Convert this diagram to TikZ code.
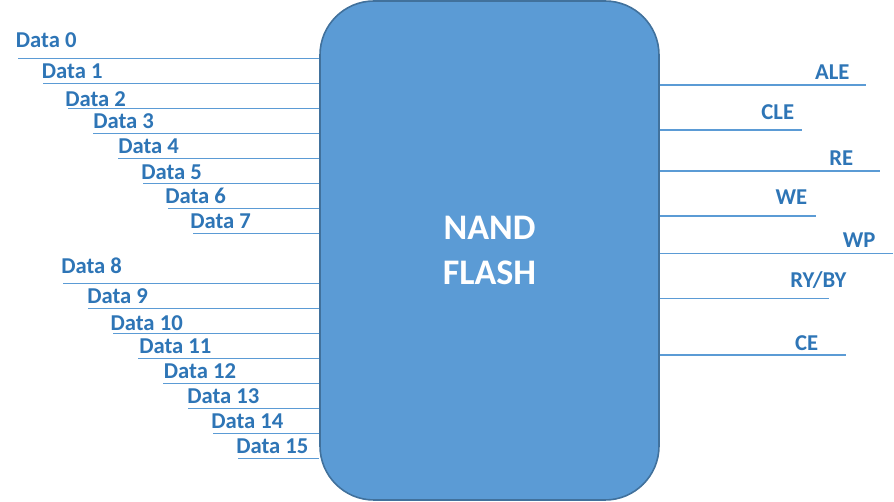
\documentclass[tikz,border=0pt]{standalone}
\usepackage{fontspec}
\setmainfont{Carlito}
\usepackage{xcolor}
\usetikzlibrary{positioning, calc}
\definecolor{pinblue}{HTML}{5B9BD5}
\definecolor{labelblue}{HTML}{2E75B6}
\definecolor{edgeblue}{HTML}{41719C}
\tikzset{
  chipbox/.style={
    draw=edgeblue, fill=pinblue, line width=1.2pt, rounded corners=40.5pt,
    minimum width=254.25pt, minimum height=374.25pt, align=center,
    text=white, font=\fontsize{27}{33.75}\selectfont\bfseries
  },
  pinline/.style={draw=pinblue, line width=0.8pt},
  datalabel/.style={anchor=base west, inner sep=0pt, text=labelblue,
    font=\fontsize{17}{20}\selectfont\bfseries},
  ctrllabel/.style={anchor=base, inner sep=0pt, text=labelblue,
    font=\fontsize{17}{20}\selectfont\bfseries},
}
\begin{document}
\begin{tikzpicture}[x=0.75pt, y=-0.75pt]
  \useasboundingbox (0,0) rectangle (894,502);
  \node[chipbox] (flash) at (489.5,250.5) {NAND\\FLASH};
  % data pins, low byte
  \node[datalabel] (l0) at (15.7,48) {Data 0};
  \node[datalabel] (l1) at (41.7,79) {Data 1};
  \node[datalabel] (l2) at (65,106.5) {Data 2};
  \node[datalabel] (l3) at (93,129) {Data 3};
  \node[datalabel] (l4) at (118,154) {Data 4};
  \node[datalabel] (l5) at (141,179.5) {Data 5};
  \node[datalabel] (l6) at (165,204) {Data 6};
  \node[datalabel] (l7) at (190,229) {Data 7};
  \coordinate (d0) at (18.3,58.3);
  \coordinate (d1) at (43.3,83.3);
  \coordinate (d2) at (68.3,108.3);
  \coordinate (d3) at (93.3,133.3);
  \coordinate (d4) at (118.3,158.3);
  \coordinate (d5) at (143.3,183.3);
  \coordinate (d6) at (168.3,208.3);
  \coordinate (d7) at (193.3,233.3);
  % data pins, high byte
  \node[datalabel] (l8) at (61,274) {Data 8};
  \node[datalabel] (l9) at (87,304) {Data 9};
  \node[datalabel] (l10) at (110.3,331) {Data 10};
  \node[datalabel] (l11) at (139,354) {Data 11};
  \node[datalabel] (l12) at (163.7,379) {Data 12};
  \node[datalabel] (l13) at (187,404) {Data 13};
  \node[datalabel] (l14) at (211,429) {Data 14};
  \node[datalabel] (l15) at (236,454) {Data 15};
  \coordinate (d8) at (63.3,283.3);
  \coordinate (d9) at (88.3,308.3);
  \coordinate (d10) at (113.3,333.3);
  \coordinate (d11) at (138.3,358.3);
  \coordinate (d12) at (163.3,383.3);
  \coordinate (d13) at (188.3,408.3);
  \coordinate (d14) at (213.3,433.3);
  \coordinate (d15) at (238.3,458.3);
  \draw[pinline] (d0) -- (d0 -| flash.west);
  \draw[pinline] (d1) -- (d1 -| flash.west);
  \draw[pinline] (d2) -- (d2 -| flash.west);
  \draw[pinline] (d3) -- (d3 -| flash.west);
  \draw[pinline] (d4) -- (d4 -| flash.west);
  \draw[pinline] (d5) -- (d5 -| flash.west);
  \draw[pinline] (d6) -- (d6 -| flash.west);
  \draw[pinline] (d7) -- (d7 -| flash.west);
  \draw[pinline] (d8) -- (d8 -| flash.west);
  \draw[pinline] (d9) -- (d9 -| flash.west);
  \draw[pinline] (d10) -- (d10 -| flash.west);
  \draw[pinline] (d11) -- (d11 -| flash.west);
  \draw[pinline] (d12) -- (d12 -| flash.west);
  \draw[pinline] (d13) -- (d13 -| flash.west);
  \draw[pinline] (d14) -- (d14 -| flash.west);
  \draw[pinline] (d15) -- (d15 -| flash.west);
  % control pins
  \node[ctrllabel] (ale) at (832.3,80) {ALE};
  \node[ctrllabel] (cle) at (777.8,120) {CLE};
  \node[ctrllabel] (re) at (841.3,166) {RE};
  \node[ctrllabel] (we) at (791.3,205) {WE};
  \node[ctrllabel] (wp) at (859.2,247.5) {WP};
  \node[ctrllabel] (ryby) at (818.3,288) {RY/BY};
  \node[ctrllabel] (ce) at (806.7,351) {CE};
  \coordinate (cale) at (866,85);
  \coordinate (ccle) at (801.7,130);
  \coordinate (cre) at (880,171);
  \coordinate (cwe) at (815.7,216);
  \coordinate (cwp) at (893.3,253.3);
  \coordinate (cryby) at (829,298.3);
  \coordinate (cce) at (846,355);
  \draw[pinline] (flash.east |- cale) -- (cale);
  \draw[pinline] (flash.east |- ccle) -- (ccle);
  \draw[pinline] (flash.east |- cre) -- (cre);
  \draw[pinline] (flash.east |- cwe) -- (cwe);
  \draw[pinline] (flash.east |- cwp) -- (cwp);
  \draw[pinline] (flash.east |- cryby) -- (cryby);
  \draw[pinline] (flash.east |- cce) -- (cce);
\end{tikzpicture}
\end{document}
